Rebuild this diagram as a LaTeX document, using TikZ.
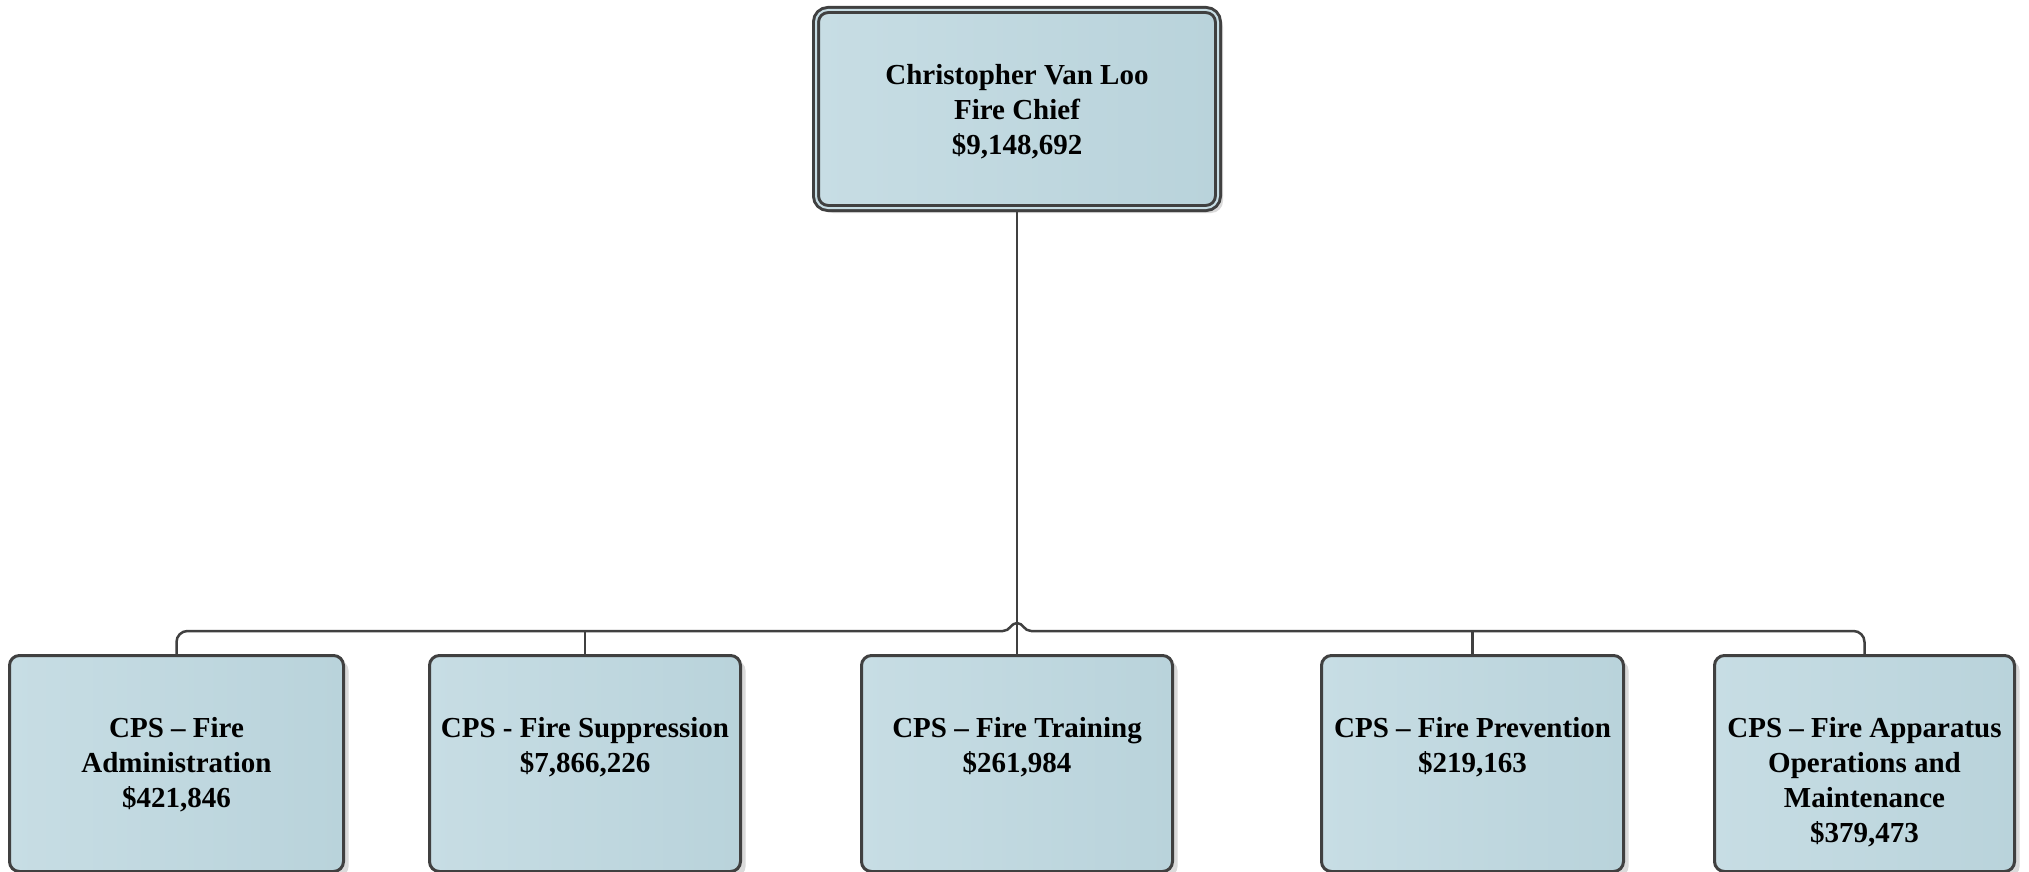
\documentclass[tikz,border=0pt]{standalone}
\usepackage{fontspec}
\setmainfont{Liberation Serif}
\usetikzlibrary{shadows}
\definecolor{boxlight}{RGB}{199,221,228}
\definecolor{boxdark}{RGB}{185,211,219}
\definecolor{edge}{RGB}{64,64,64}
\definecolor{shade}{RGB}{218,218,218}
\tikzset{
  txt/.style={font=\fontsize{29}{35}\selectfont\bfseries, align=center, inner sep=0pt, text=black},
  orgbox/.style={draw=edge, line width=3pt, rounded corners=10pt, left color=boxlight, right color=boxdark,
    minimum height=216pt, outer sep=0pt, inner sep=0pt,
    drop shadow={shadow xshift=5pt, shadow yshift=-5pt, fill=shade, opacity=1}},
  chiefbox/.style={draw=edge, line width=3pt, double=boxlight, double distance=2pt, rounded corners=12pt,
    left color=boxlight, right color=boxdark, minimum width=402pt, minimum height=198pt,
    outer sep=4pt, inner sep=0pt,
    drop shadow={shadow xshift=5pt, shadow yshift=-5pt, fill=shade, opacity=1}},
  conn/.style={draw=edge, line width=2.5pt}
}
\begin{document}
\begin{tikzpicture}[x=1pt,y=-1pt]
\useasboundingbox (0,0) rectangle (2029,872);
\fill[white] (0,0) rectangle (2029,872);
% chief
\node[chiefbox] (chief) at (1017,109) {};
\node[txt] (chieftxt) at (1017,112) {Christopher Van Loo\\Fire Chief\\\$9,148,692};
% bottom boxes
\node[orgbox, minimum width=334pt] (b1) at (176.5,763.5) {};
\node[orgbox, minimum width=311pt] (b2) at (585,763.5) {};
\node[orgbox, minimum width=311pt] (b3) at (1017,763.5) {};
\node[orgbox, minimum width=302pt] (b4) at (1472.5,763.5) {};
\node[orgbox, minimum width=300pt] (b5) at (1864.5,763.5) {};
\node[txt, anchor=north] (t1) at (176.5,717) {CPS -- Fire\\Administration\\\$421,846};
\node[txt, anchor=north] (t2) at (585,717) {CPS - Fire Suppression\\\$7,866,226};
\node[txt, anchor=north] (t3) at (1017,717) {CPS -- Fire Training\\\$261,984};
\node[txt, anchor=north] (t4) at (1472.5,717) {CPS -- Fire Prevention\\\$219,163};
\node[txt, anchor=north] (t5) at (1864.5,717) {CPS -- Fire Apparatus\\Operations and\\Maintenance\\\$379,473};
% connectors
\coordinate (jl) at (1003,631);
\coordinate (jr) at (1031,631);
\draw[conn] (chief.south) -- (b3.north);
\draw[conn, rounded corners=11pt] (b1.north) |- (jl);
\draw[conn] (jl) .. controls (1010,631) and (1011,623) .. (1017,623) .. controls (1023,623) and (1024,631) .. (jr);
\draw[conn, rounded corners=11pt] (jr) -| (b5.north);
\draw[conn] (b2.north) -- (b2.north |- jl);
\draw[conn] (b4.north) -- (b4.north |- jr);
\end{tikzpicture}
\end{document}
